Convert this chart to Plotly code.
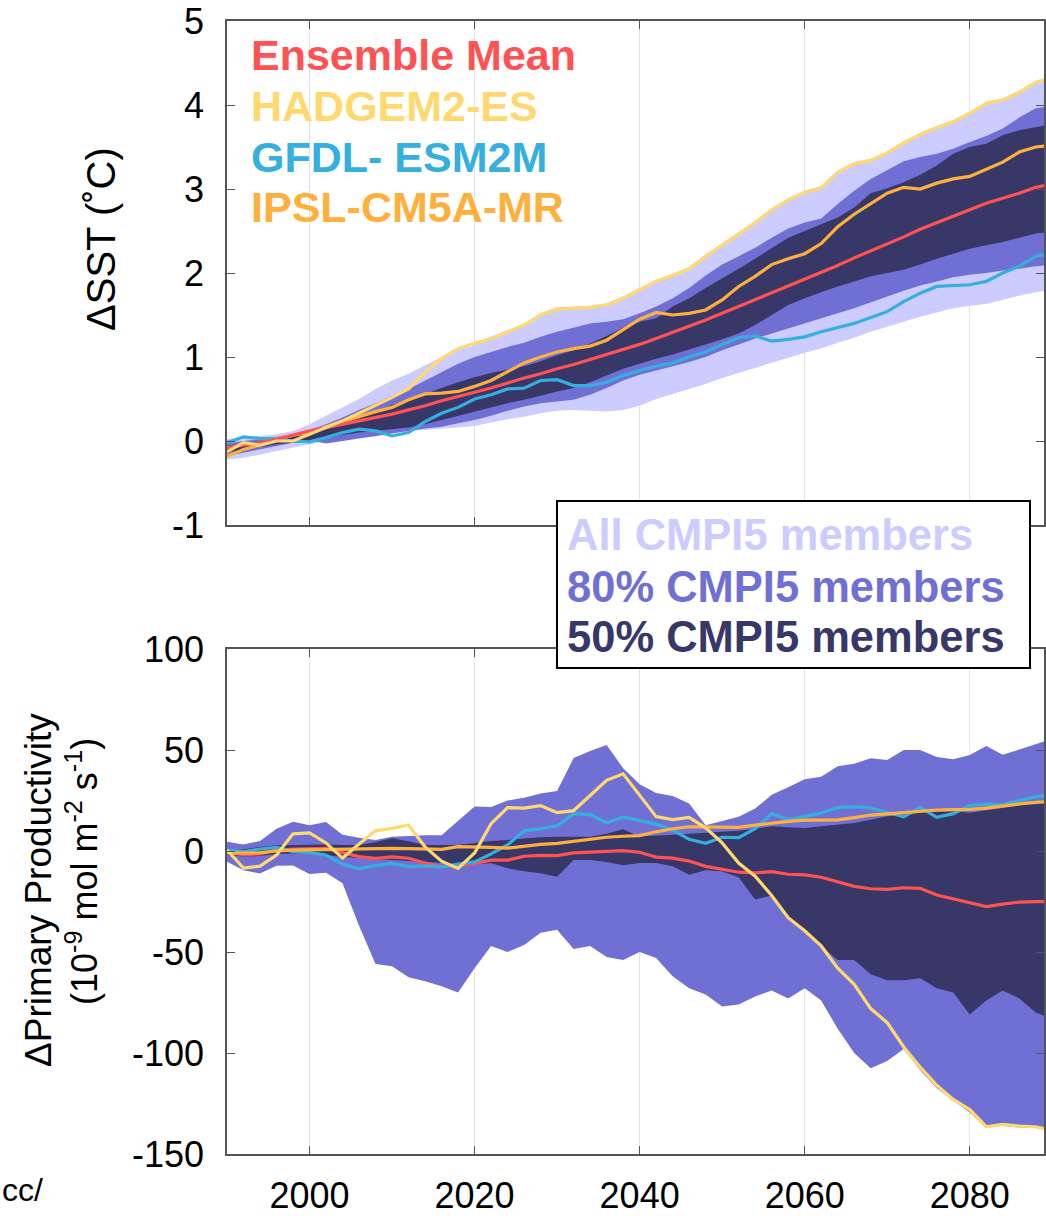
import plotly.graph_objects as go

W, H = 1046, 1216

years = list(range(1990, 2091, 2))

# ---------------- Top panel: delta SST (deg C) ----------------
sst_mean = [-0.08, -0.05, -0.02, 0.02, 0.07, 0.12, 0.16, 0.20, 0.24, 0.28, 0.32, 0.37, 0.42, 0.48, 0.53,
            0.58, 0.63, 0.69, 0.75, 0.80, 0.86, 0.91, 0.97, 1.03, 1.09, 1.15, 1.22, 1.29, 1.36, 1.44,
            1.52, 1.60, 1.68, 1.76, 1.85, 1.93, 2.01, 2.09, 2.18, 2.26, 2.35, 2.43, 2.52, 2.60, 2.68,
            2.76, 2.83, 2.89, 2.95, 3.02, 3.06]
sst_had = [-0.13, -0.02, -0.05, 0.0, 0.0, 0.08, 0.15, 0.24, 0.33, 0.42, 0.52, 0.62, 0.82, 0.98, 1.10,
           1.16, 1.22, 1.30, 1.38, 1.50, 1.57, 1.58, 1.59, 1.62, 1.70, 1.80, 1.90, 1.97, 2.05, 2.20,
           2.33, 2.46, 2.60, 2.75, 2.87, 2.96, 3.01, 3.20, 3.30, 3.34, 3.43, 3.55, 3.65, 3.73, 3.80,
           3.90, 4.02, 4.06, 4.15, 4.27, 4.32]
sst_gfdl = [-0.02, 0.05, 0.03, 0.03, 0.0, -0.01, 0.04, 0.10, 0.14, 0.12, 0.06, 0.10, 0.23, 0.33, 0.40,
            0.50, 0.55, 0.62, 0.63, 0.72, 0.73, 0.66, 0.66, 0.70, 0.78, 0.84, 0.89, 0.93, 1.00, 1.06,
            1.15, 1.23, 1.25, 1.19, 1.21, 1.24, 1.30, 1.35, 1.40, 1.47, 1.54, 1.66, 1.76, 1.84, 1.85,
            1.86, 1.90, 2.00, 2.08, 2.20, 2.23]
sst_ipsl = [-0.18, -0.10, -0.05, 0.02, 0.07, 0.10, 0.17, 0.23, 0.29, 0.35, 0.40, 0.49, 0.56, 0.57, 0.59,
            0.65, 0.72, 0.83, 0.93, 1.00, 1.06, 1.10, 1.13, 1.20, 1.32, 1.45, 1.53, 1.50, 1.52, 1.56,
            1.68, 1.84, 1.96, 2.10, 2.17, 2.23, 2.35, 2.55, 2.70, 2.82, 2.95, 3.02, 3.00, 3.07, 3.12,
            3.15, 3.23, 3.32, 3.44, 3.50, 3.52]
sst_all_hi = [0.02, 0.05, 0.06, 0.08, 0.12, 0.20, 0.30, 0.40, 0.50, 0.62, 0.72, 0.80, 0.90, 1.00, 1.12,
              1.18, 1.24, 1.32, 1.40, 1.52, 1.59, 1.60, 1.61, 1.64, 1.72, 1.82, 1.92, 1.99, 2.07, 2.22,
              2.35, 2.48, 2.62, 2.77, 2.89, 2.98, 3.04, 3.22, 3.32, 3.36, 3.45, 3.57, 3.67, 3.75, 3.82,
              3.92, 4.04, 4.08, 4.17, 4.29, 4.34]
sst_all_lo = [-0.22, -0.20, -0.16, -0.12, -0.08, -0.04, 0.0, 0.03, 0.06, 0.05, 0.10, 0.12, 0.13, 0.15, 0.16,
              0.18, 0.22, 0.26, 0.29, 0.33, 0.36, 0.37, 0.36, 0.35, 0.37, 0.42, 0.50, 0.56, 0.62, 0.68,
              0.75, 0.81, 0.87, 0.93, 0.99, 1.05, 1.10, 1.17, 1.23, 1.30, 1.36, 1.42, 1.48, 1.53, 1.58,
              1.61, 1.63, 1.68, 1.73, 1.77, 1.80]
sst_p80_hi = [-0.03, 0.0, 0.02, 0.05, 0.08, 0.13, 0.20, 0.28, 0.37, 0.45, 0.54, 0.62, 0.72, 0.82, 0.92,
              1.00, 1.06, 1.12, 1.17, 1.24, 1.30, 1.35, 1.40, 1.42, 1.45, 1.52, 1.60, 1.70, 1.82, 1.97,
              2.10, 2.20, 2.30, 2.42, 2.53, 2.60, 2.65, 2.82, 2.98, 3.12, 3.22, 3.33, 3.38, 3.42, 3.48,
              3.56, 3.63, 3.72, 3.85, 3.96, 3.99]
sst_p80_lo = [-0.18, -0.14, -0.10, -0.06, -0.02, 0.01, -0.03, 0.0, 0.03, 0.06, 0.09, 0.12, 0.15, 0.17, 0.21,
              0.25, 0.30, 0.36, 0.41, 0.45, 0.47, 0.49, 0.55, 0.63, 0.72, 0.79, 0.84, 0.89, 0.94, 1.00,
              1.08, 1.15, 1.22, 1.28, 1.34, 1.40, 1.46, 1.52, 1.58, 1.65, 1.72, 1.79, 1.85, 1.90, 1.95,
              1.98, 2.00, 2.03, 2.05, 2.08, 2.10]
sst_p50_hi = [-0.06, -0.03, 0.0, 0.03, 0.06, 0.09, 0.16, 0.23, 0.29, 0.36, 0.43, 0.48, 0.56, 0.63, 0.70,
              0.76, 0.81, 0.85, 0.89, 0.95, 1.02, 1.08, 1.16, 1.25, 1.35, 1.42, 1.46, 1.60, 1.70, 1.82,
              1.93, 2.05, 2.17, 2.30, 2.42, 2.50, 2.58, 2.66, 2.78, 2.95, 3.01, 3.08, 3.17, 3.28, 3.42,
              3.50, 3.54, 3.64, 3.70, 3.74, 3.77]
sst_p50_lo = [-0.14, -0.10, -0.07, -0.04, -0.02, -0.01, 0.03, 0.07, 0.10, 0.12, 0.14, 0.16, 0.20, 0.25, 0.30,
              0.35, 0.40, 0.45, 0.49, 0.54, 0.59, 0.63, 0.70, 0.78, 0.86, 0.92, 0.98, 1.03, 1.09, 1.15,
              1.21, 1.28, 1.38, 1.50, 1.62, 1.70, 1.77, 1.84, 1.90, 1.96, 2.00, 2.04, 2.10, 2.17, 2.23,
              2.29, 2.33, 2.37, 2.42, 2.47, 2.49]

# ---------------- Bottom panel: delta primary productivity ----------------
pp_mean = [-0.8, -1.8, -1.5, 0.4, 1.0, 1.3, 1.3, -0.8, -2.8, -3.6, -2.9, -3.6, -6.0, -7.8, -7.4,
           -6.1, -4.5, -4.5, -2.6, -2.2, -2.3, -0.9, -0.5, -0.2, 0.2, -0.6, -3.0, -3.5, -5.0, -7.6,
           -9.0, -10.5, -10.8, -10.2, -11.5, -11.8, -13.0, -15.2, -17.5, -18.7, -19.0, -18.2, -18.5, -21.8, -23.8,
           -25.8, -27.5, -26.3, -25.3, -25.1, -25.0]
pp_had = [0.5, -8.5, -7.5, -2.0, 8.5, 9.0, 4.0, -3.5, 3.5, 10.0, 11.2, 12.9, 2.0, -5.0, -8.6,
          -1.0, 13.5, 21.5, 21.2, 22.5, 19.0, 20.0, 27.5, 35.0, 38.2, 27.5, 17.0, 15.5, 16.6, 11.5,
          4.0, -6.0, -12.5, -22.0, -33.0, -39.5, -47.0, -58.0, -66.0, -78.0, -85.0, -97.0, -107.0, -116.0, -123.0,
          -128.0, -136.5, -135.3, -136.2, -136.5, -138.5]
pp_gfdl = [0.4, -0.3, 1.0, 1.8, -0.3, -0.8, -2.0, -6.5, -8.8, -7.2, -6.1, -7.8, -7.4, -8.0, -6.5,
           -5.4, -1.4, 3.0, 10.0, 11.0, 12.5, 18.5, 18.0, 14.0, 16.8, 15.0, 13.3, 10.4, 5.8, 3.8,
           6.8, 6.6, 11.0, 18.5, 15.6, 17.0, 18.8, 21.5, 22.0, 21.3, 19.0, 16.9, 21.6, 16.7, 18.5,
           22.5, 23.2, 23.0, 25.0, 26.8, 27.8]
pp_ipsl = [-0.8, -1.1, -0.8, 0.0, 0.4, 0.6, 0.7, 1.0, 1.3, 1.3, 1.3, 1.2, 0.9, 0.8, 2.2,
           2.1, 1.8, 1.4, 2.5, 3.3, 3.8, 4.8, 6.2, 6.8, 7.3, 7.6, 9.5, 11.0, 12.0, 12.0,
           11.9, 11.7, 12.8, 13.8, 14.7, 15.3, 15.3, 15.4, 16.5, 17.8, 18.4, 19.0, 19.7, 20.3, 20.5,
           20.6, 21.2, 22.3, 23.3, 24.1, 24.5]
pp_p80_hi = [4.6, 3.2, 5.0, 11.0, 14.5, 12.7, 14.3, 8.0, 6.5, 5.4, 7.0, 7.5, 7.8, 7.8, 15.0,
             22.0, 21.8, 25.0, 26.3, 28.5, 29.7, 46.0, 49.5, 52.5, 41.0, 33.0, 28.7, 27.2, 23.5, 12.8,
             14.8, 17.0, 21.0, 27.8, 31.5, 35.5, 36.8, 42.0, 43.2, 45.9, 45.0, 50.0, 50.0, 46.5, 45.4,
             47.5, 52.0, 47.7, 50.2, 53.0, 55.5]
pp_p80_lo = [-5.3, -9.5, -11.2, -7.3, -7.2, -11.4, -10.8, -16.0, -37.0, -56.0, -57.0, -62.5, -64.5, -67.0, -70.0,
             -58.0, -47.0, -50.0, -46.5, -40.5, -39.0, -48.5, -47.0, -52.5, -54.0, -50.0, -53.0, -62.0, -68.0, -71.0,
             -77.0, -76.0, -72.0, -69.0, -73.0, -68.0, -74.0, -88.0, -100.0, -107.5, -104.0, -98.0, -108.5, -117.5, -123.5,
             -129.5, -137.0, -136.0, -137.0, -137.0, -139.0]
pp_p50_hi = [-0.3, 1.0, 2.0, 2.8, 3.0, 3.0, 3.2, 3.0, 3.0, 4.5, 6.3, 4.8, 3.0, 3.0, 3.0,
             4.0, 5.0, 5.5, 6.3, 6.8, 7.0, 7.0, 7.0, 8.5, 10.8, 7.2, 7.5, 8.0, 8.5, 9.0,
             9.5, 10.0, 11.0, 12.2, 11.8, 11.4, 12.2, 13.0, 13.9, 15.5, 17.2, 18.0, 18.9, 19.3, 19.7,
             18.9, 20.0, 21.4, 22.5, 24.0, 24.6]
pp_p50_lo = [-2.0, -2.7, -2.5, -1.5, -1.2, -1.2, -2.0, -3.0, -3.7, -4.2, -4.5, -5.0, -5.3, -6.0, -7.0,
             -6.5, -6.1, -8.6, -10.0, -11.0, -12.7, -4.5, -4.5, -5.5, -7.0, -6.0, -6.0, -7.5, -11.8, -9.5,
             -10.2, -13.0, -24.0, -22.0, -33.0, -40.0, -47.0, -54.0, -54.0, -61.0, -64.0, -64.0, -63.0, -68.0, -70.0,
             -81.0, -74.0, -69.0, -73.0, -80.0, -83.0]

xtick_vals = [2000, 2020, 2040, 2060, 2080]
xtick_text = ["2000", "2020", "2040", "2060", "2080"]
y1_vals = [-1, 0, 1, 2, 3, 4, 5]
y1_text = ["-1", "0", "1", "2", "3", "4", "5"]
y2_vals = [-150, -100, -50, 0, 50, 100]
y2_text = ["-150", "-100", "-50", "0", "50", "100"]

model_names = ["Ensemble Mean", "HADGEM2-ES", "GFDL- ESM2M", "IPSL-CM5A-MR"]
band_names = ["All CMPI5 members", "80% CMPI5 members", "50% CMPI5 members"]

C_MEAN = "#FF5252"
C_HAD = "#FFD970"
C_GFDL = "#34AFDE"
C_IPSL = "#FFB03C"
C_ALL = "#CCCCFF"
C_80 = "#7070D4"
C_50 = "#373768"

FONT = "Liberation Sans, Arial, Helvetica, sans-serif"

fig = go.Figure()


def band(lo, hi, color, xa, ya):
    fig.add_trace(go.Scatter(x=years + years[::-1], y=hi + lo[::-1], fill="toself",
                             fillcolor=color, line=dict(width=0), mode="lines",
                             hoverinfo="skip", xaxis=xa, yaxis=ya))


def line(vals, color, xa, ya):
    fig.add_trace(go.Scatter(x=years, y=vals, mode="lines", line=dict(color=color, width=3.2),
                             xaxis=xa, yaxis=ya))


# top
band(sst_all_lo, sst_all_hi, C_ALL, "x", "y")
band(sst_p80_lo, sst_p80_hi, C_80, "x", "y")
band(sst_p50_lo, sst_p50_hi, C_50, "x", "y")
line(sst_gfdl, C_GFDL, "x", "y")
line(sst_ipsl, C_IPSL, "x", "y")
line(sst_mean, C_MEAN, "x", "y")
line(sst_had, C_HAD, "x", "y")

# bottom
band(pp_p80_lo, pp_p80_hi, C_80, "x2", "y2")
band(pp_p50_lo, pp_p50_hi, C_50, "x2", "y2")
line(pp_mean, C_MEAN, "x2", "y2")
line(pp_gfdl, C_GFDL, "x2", "y2")
line(pp_ipsl, C_IPSL, "x2", "y2")
line(pp_had, C_HAD, "x2", "y2")


def px_x(p):
    return p / W


def px_y(p):
    return 1 - p / H


XDOM = [px_x(227), px_x(1044)]
axis_common = dict(showline=True, linecolor="#555555", linewidth=1.5, mirror="ticks",
                   ticks="inside", ticklen=8, tickcolor="#555555", tickwidth=1.2,
                   zeroline=False, automargin=False,
                   tickfont=dict(family=FONT, size=36, color="black"))

fig.update_layout(
    width=W, height=H, margin=dict(l=0, r=0, t=0, b=0, autoexpand=False),
    paper_bgcolor="white", plot_bgcolor="white", showlegend=False,
    font=dict(family=FONT, color="black"),
    xaxis=dict(domain=XDOM, range=[1990, 2089], anchor="y", tickvals=xtick_vals,
               showticklabels=False, showgrid=True, gridcolor="#E2E2E2", gridwidth=1,
               **axis_common),
    yaxis=dict(domain=[px_y(525), px_y(21)], range=[-1, 5], anchor="x", tickvals=y1_vals,
               ticktext=y1_text, showgrid=False, ticklabelstandoff=14, **axis_common),
    xaxis2=dict(domain=XDOM, range=[1990, 2089], anchor="y2", tickvals=xtick_vals,
                ticktext=xtick_text, showgrid=True, gridcolor="#E2E2E2", gridwidth=1,
                ticklabelstandoff=9, **axis_common),
    yaxis2=dict(domain=[px_y(1154), px_y(649)], range=[-150, 100], anchor="x2", tickvals=y2_vals,
                ticktext=y2_text, showgrid=False, ticklabelstandoff=14, **axis_common),
)

# legend box
fig.add_shape(type="rect", xref="paper", yref="paper", x0=px_x(557), x1=px_x(1030),
              y0=px_y(668), y1=px_y(501), fillcolor="white", line=dict(color="black", width=2),
              layer="above")

ann = []
# model names in top panel
for name, col, yc in zip(model_names, [C_MEAN, C_HAD, C_GFDL, C_IPSL], [55, 106, 157, 207]):
    ann.append(dict(text="<b>" + name + "</b>", x=px_x(249), y=px_y(yc), xref="paper", yref="paper",
                    xanchor="left", yanchor="middle", showarrow=False,
                    font=dict(family=FONT, size=43, color=col)))
# band legend
for name, col, yc in zip(band_names, [C_ALL, C_80, C_50], [535, 587, 637]):
    ann.append(dict(text="<b>" + name + "</b>", x=px_x(565), y=px_y(yc), xref="paper", yref="paper",
                    xanchor="left", yanchor="middle", showarrow=False,
                    font=dict(family=FONT, size=43.5, color=col)))
# axis titles
ann.append(dict(text="ΔSST (˚C)", x=px_x(101), y=px_y(239), xref="paper", yref="paper",
                xanchor="center", yanchor="middle", textangle=-90, showarrow=False,
                font=dict(family=FONT, size=40, color="black")))
ann.append(dict(text="ΔPrimary Productivity", x=px_x(38), y=px_y(890), xref="paper", yref="paper",
                xanchor="center", yanchor="middle", textangle=-90, showarrow=False,
                font=dict(family=FONT, size=37, color="black")))
ann.append(dict(text="(10<sup>-9</sup> mol m<sup>-2</sup> s<sup>-1</sup>)", x=px_x(82), y=px_y(872),
                xref="paper", yref="paper", xanchor="center", yanchor="middle", textangle=-90,
                showarrow=False, font=dict(family=FONT, size=36, color="black")))
ann.append(dict(text="cc/", x=0, y=px_y(1190), xref="paper", yref="paper", xanchor="left",
                yanchor="middle", showarrow=False, font=dict(family=FONT, size=32, color="black")))
fig.update_layout(annotations=ann)

fig.write_html("out.html", config={"displayModeBar": False},
               post_script="document.body.style.margin='0';")
